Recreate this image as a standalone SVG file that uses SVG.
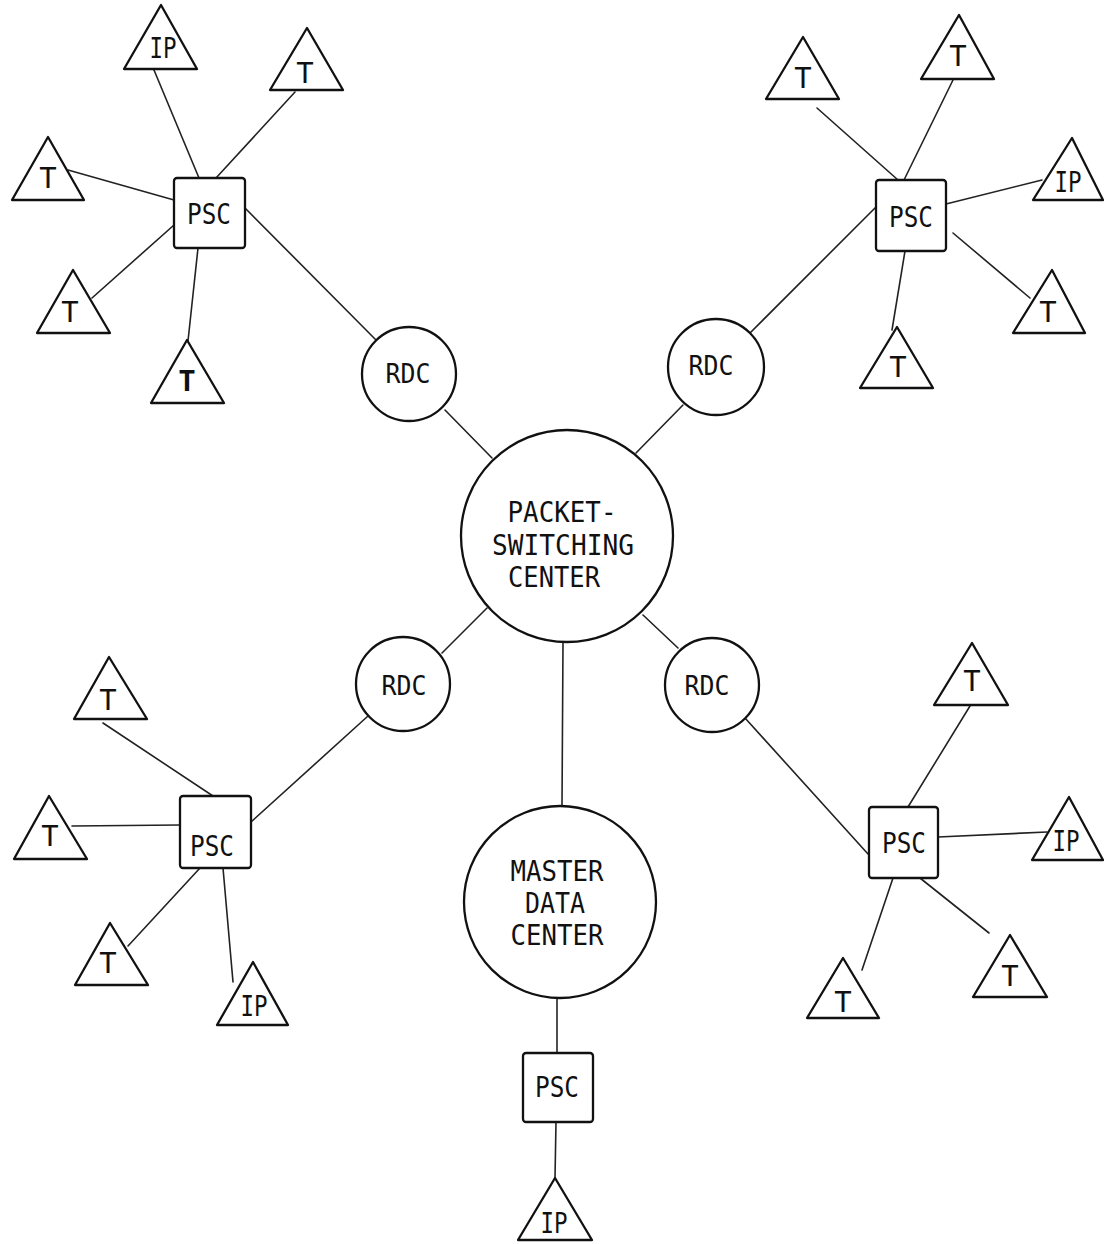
<svg xmlns="http://www.w3.org/2000/svg" width="1104" height="1244" viewBox="0 0 1104 1244">
<style>
.shape{fill:#fff;stroke:#111;stroke-width:2.3;stroke-linejoin:round}
.conn line{stroke:#222;stroke-width:1.6;stroke-linecap:round}
text{font-family:"DejaVu Sans Mono","Liberation Mono",monospace;font-size:29px;fill:#111;text-anchor:middle}
.sm{font-size:27px}
</style>
<rect width="1104" height="1244" fill="#fff"/>
<g id="connectors" class="conn">
  <line x1="154" y1="70" x2="199" y2="178"/>
  <line x1="295" y1="92" x2="216" y2="178"/>
  <line x1="68" y1="170" x2="174" y2="200"/>
  <line x1="92" y1="298" x2="174" y2="225"/>
  <line x1="188" y1="341" x2="198" y2="248"/>
  <line x1="245" y1="208" x2="376" y2="340"/>
  <line x1="817" y1="108" x2="898" y2="180"/>
  <line x1="953" y1="80" x2="904" y2="180"/>
  <line x1="946" y1="204" x2="1042" y2="180"/>
  <line x1="953" y1="233" x2="1030" y2="298"/>
  <line x1="905" y1="251" x2="892" y2="330"/>
  <line x1="750" y1="333" x2="876" y2="207"/>
  <line x1="445" y1="410" x2="492" y2="458"/>
  <line x1="683" y1="405" x2="636" y2="453"/>
  <line x1="442" y1="653" x2="487" y2="608"/>
  <line x1="643" y1="615" x2="678" y2="648"/>
  <line x1="563" y1="643" x2="562" y2="806"/>
  <line x1="103" y1="723" x2="213" y2="796"/>
  <line x1="72" y1="826" x2="180" y2="825"/>
  <line x1="128" y1="946" x2="200" y2="868"/>
  <line x1="233" y1="982" x2="223" y2="868"/>
  <line x1="251" y1="822" x2="368" y2="716"/>
  <line x1="745" y1="718" x2="868" y2="854"/>
  <line x1="970" y1="706" x2="908" y2="807"/>
  <line x1="938" y1="837" x2="1047" y2="832"/>
  <line x1="920" y1="878" x2="989" y2="933"/>
  <line x1="893" y1="878" x2="862" y2="970"/>
  <line x1="557" y1="998" x2="557" y2="1053"/>
  <line x1="556" y1="1122" x2="555" y2="1178"/>
</g>

<g id="tl-ip"><polygon class="shape" points="161,5 197,69 124,69"/><text x="163" y="58" textLength="27" lengthAdjust="spacingAndGlyphs">IP</text></g>
<g id="tl-t1"><polygon class="shape" points="307,28 343,90 270,90"/><text x="305" y="83">T</text></g>
<g id="tl-t2"><polygon class="shape" points="48,137 84,200 12,200"/><text x="48" y="188">T</text></g>
<g id="tl-t3"><polygon class="shape" points="73,270 110,333 37,333"/><text x="70" y="322">T</text></g>
<g id="tl-t4"><polygon class="shape" points="187,340 224,403 151,403"/><text x="187" y="391" font-weight="bold">T</text></g>
<g id="tl-psc"><rect class="shape" x="174" y="178" width="71" height="70" rx="3"/><text x="209" y="224" textLength="44" lengthAdjust="spacingAndGlyphs">PSC</text></g>

<g id="tr-t1"><polygon class="shape" points="803,37 839,99 766,99"/><text x="803" y="88">T</text></g>
<g id="tr-t2"><polygon class="shape" points="959,15 994,79 921,79"/><text x="958" y="66">T</text></g>
<g id="tr-ip"><polygon class="shape" points="1072,138 1103,200 1033,200"/><text x="1068" y="192" textLength="27" lengthAdjust="spacingAndGlyphs">IP</text></g>
<g id="tr-t3"><polygon class="shape" points="1052,270 1085,333 1013,333"/><text x="1048" y="322">T</text></g>
<g id="tr-t4"><polygon class="shape" points="897,327 933,388 860,388"/><text x="898" y="377">T</text></g>
<g id="tr-psc"><rect class="shape" x="876" y="180" width="70" height="71" rx="3"/><text x="911" y="227" textLength="44" lengthAdjust="spacingAndGlyphs">PSC</text></g>

<g id="rdc-tl"><circle class="shape" cx="409" cy="374" r="47"/><text class="sm" x="408" y="383" textLength="45" lengthAdjust="spacingAndGlyphs">RDC</text></g>
<g id="rdc-tr"><circle class="shape" cx="716" cy="367" r="48"/><text class="sm" x="711" y="375" textLength="45" lengthAdjust="spacingAndGlyphs">RDC</text></g>
<g id="rdc-bl"><circle class="shape" cx="403" cy="684" r="47"/><text class="sm" x="404" y="695" textLength="45" lengthAdjust="spacingAndGlyphs">RDC</text></g>
<g id="rdc-br"><circle class="shape" cx="712" cy="685" r="47"/><text class="sm" x="707" y="695" textLength="45" lengthAdjust="spacingAndGlyphs">RDC</text></g>

<g id="psc-center"><circle class="shape" cx="567" cy="536" r="106"/>
<text x="562" y="522" textLength="109" lengthAdjust="spacingAndGlyphs">PACKET-</text>
<text x="563" y="555" textLength="142" lengthAdjust="spacingAndGlyphs">SWITCHING</text>
<text x="554" y="587" textLength="92" lengthAdjust="spacingAndGlyphs">CENTER</text></g>

<g id="master"><circle class="shape" cx="560" cy="902" r="96"/>
<text x="557" y="881" textLength="93" lengthAdjust="spacingAndGlyphs">MASTER</text>
<text x="555" y="913" textLength="60" lengthAdjust="spacingAndGlyphs">DATA</text>
<text x="557" y="945" textLength="93" lengthAdjust="spacingAndGlyphs">CENTER</text></g>

<g id="bl-t1"><polygon class="shape" points="109,657 147,719 74,719"/><text x="108" y="710">T</text></g>
<g id="bl-t2"><polygon class="shape" points="49,796 87,859 14,859"/><text x="50" y="846">T</text></g>
<g id="bl-t3"><polygon class="shape" points="110,923 148,985 75,985"/><text x="108" y="973">T</text></g>
<g id="bl-ip"><polygon class="shape" points="253,962 288,1025 217,1025"/><text x="254" y="1016" textLength="27" lengthAdjust="spacingAndGlyphs">IP</text></g>
<g id="bl-psc"><rect class="shape" x="180" y="796" width="71" height="72" rx="3"/><text x="212" y="856" textLength="44" lengthAdjust="spacingAndGlyphs">PSC</text></g>

<g id="br-t1"><polygon class="shape" points="972,643 1008,705 934,705"/><text x="972" y="691">T</text></g>
<g id="br-ip"><polygon class="shape" points="1069,797 1103,860 1032,860"/><text x="1066" y="851" textLength="27" lengthAdjust="spacingAndGlyphs">IP</text></g>
<g id="br-t2"><polygon class="shape" points="1010,935 1047,997 973,997"/><text x="1010" y="986">T</text></g>
<g id="br-t3"><polygon class="shape" points="843,958 879,1018 807,1018"/><text x="843" y="1012">T</text></g>
<g id="br-psc"><rect class="shape" x="869" y="807" width="69" height="71" rx="3"/><text x="904" y="853" textLength="44" lengthAdjust="spacingAndGlyphs">PSC</text></g>

<g id="bottom-psc"><rect class="shape" x="523" y="1053" width="70" height="69" rx="3"/><text x="557" y="1097" textLength="44" lengthAdjust="spacingAndGlyphs">PSC</text></g>
<g id="bottom-ip"><polygon class="shape" points="555,1178 592,1240 518,1240"/><text x="554" y="1233" textLength="27" lengthAdjust="spacingAndGlyphs">IP</text></g>
</svg>
